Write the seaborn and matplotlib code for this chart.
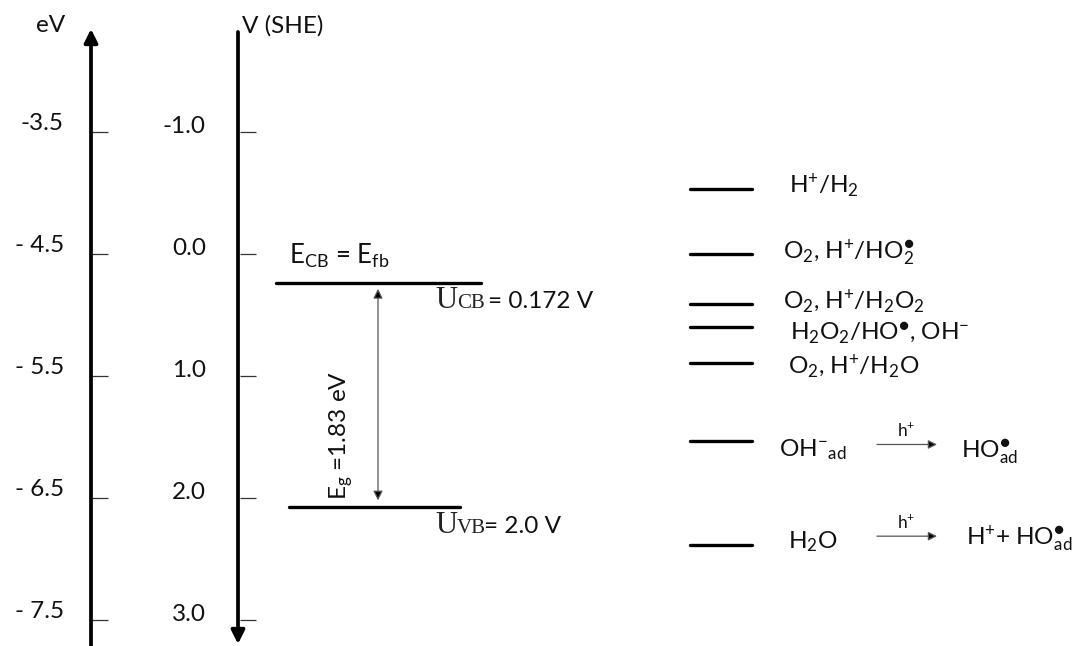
import matplotlib
matplotlib.use("Agg")
import matplotlib.pyplot as plt
import numpy as np
import pandas as pd
import seaborn as sns

# ---------------- data ----------------
v_ticks = [-1.0, 0.0, 1.0, 2.0, 3.0]
v_tick_labels = ["-1.0", "0.0", "1.0", "2.0", "3.0"]
ev_ticks = [-3.5, -4.5, -5.5, -6.5, -7.5]
ev_tick_labels = ["-3.5", "- 4.5", "- 5.5", "- 6.5", "- 7.5"]
ev_zero = -4.5          # eV = ev_zero - V(SHE)

band_names = ["CB", "VB"]
band_levels = [0.24, 2.08]       # drawn level, V vs SHE
u_cb = "0.172 V"
u_vb = "2.0 V"
eg_label = "1.83 eV"

DOT = "●"
redox_labels = [
    r"H$^{+}$/H$_{2}$",
    r"O$_{2}$, H$^{+}$/HO$_{2}^{" + DOT + "}$",
    r"O$_{2}$, H$^{+}$/H$_{2}$O$_{2}$",
    r"H$_{2}$O$_{2}$/HO$^{" + DOT + "}$, OH$^{-}$",
    r"O$_{2}$, H$^{+}$/H$_{2}$O",
    r"OH$^{-}$$_{ad}$",
    r"H$_{2}$O",
]
redox_levels = [-0.53, 0.0, 0.41, 0.60, 0.90, 1.54, 2.39]
reaction_products = {5: r"HO$^{" + DOT + "}_{ad}$",
                     6: r"H$^{+}$+ HO$^{" + DOT + "}_{ad}$"}

# ---------------- layout (positions / styles) ----------------
PX_PER_V = 122.0
ZERO_PX = 253.6
def px2v(p):
    return (p - ZERO_PX) / PX_PER_V

label_x = [789, 783, 783, 790, 788, 779, 788]
label_base_px = [4, 5, 5, 13, 10, 15, 3]
band_x = {"CB": (276, 481), "VB": (289, 460)}

sns.set_theme(style="white")
plt.rcParams["font.family"] = ["Lato", "DejaVu Sans"]
plt.rcParams["mathtext.default"] = "regular"

fig = plt.figure(figsize=(10.81, 6.46), dpi=100)
ax = fig.add_axes([0, 0, 1, 1])

# level segments via seaborn
rows = []
for name, lvl in zip(band_names, band_levels):
    x0, x1 = band_x[name]
    rows += [dict(seg=name, x=x0, y=lvl), dict(seg=name, x=x1, y=lvl)]
for i, lvl in enumerate(redox_levels):
    rows += [dict(seg=f"r{i}", x=690, y=lvl), dict(seg=f"r{i}", x=752, y=lvl)]
df = pd.DataFrame(rows)
sns.lineplot(data=df, x="x", y="y", units="seg", estimator=None, sort=False,
             color="black", lw=2.4, ax=ax, legend=False)

ax.set_xlim(0, 1081)
ax.set_ylim(px2v(646), px2v(0))
ax.axis("off")

FS = 17.5
TC = "#111111"
# eV axis (arrow up)
ax.annotate("", xy=(91, px2v(29)), xytext=(91, px2v(660)),
            arrowprops=dict(arrowstyle="-|>", lw=2.7, color="black",
                            mutation_scale=20, shrinkA=0, shrinkB=0))
ev_pos = [ev_zero - e for e in ev_ticks]
ax.hlines(ev_pos, 92, 108, color="#333333", lw=0.9)
for p, lab in zip(ev_pos, ev_tick_labels):
    ax.text(64, p - 8 / PX_PER_V, lab, ha="right", va="center", fontsize=FS, color=TC)
ax.text(51, px2v(25), "eV", ha="center", va="center", fontsize=FS, color=TC)

# V(SHE) axis (arrow down)
ax.annotate("", xy=(238, px2v(644)), xytext=(238, px2v(32)),
            arrowprops=dict(arrowstyle="-|>", lw=2.7, color="black",
                            mutation_scale=20, shrinkA=0, shrinkB=0))
ax.hlines(v_ticks, 240, 256, color="#333333", lw=0.9)
for p, lab in zip(v_ticks, v_tick_labels):
    ax.text(206, p - 5 / PX_PER_V, lab, ha="right", va="center", fontsize=FS, color=TC)
ax.text(242, px2v(26), "V (SHE)", ha="left", va="center", fontsize=FS, color=TC)

# band annotations
cb, vb = band_levels
ax.text(289, px2v(256), r"E$_{CB}$ = E$_{fb}$", ha="left", va="center",
        fontsize=18.5, color=TC)
for lvl, name, val in [(cb, "CB", u_cb), (vb, "VB", u_vb)]:
    base = lvl + (25 if name == "CB" else 26) / PX_PER_V
    ax.text(435, base, "U", ha="left", va="baseline", fontsize=22,
            family="Liberation Serif", color="#222222")
    ax.text(457, base, name, ha="left", va="baseline", fontsize=15,
            family="Liberation Serif", color="#222222")
    ax.text(488 if name == "CB" else 484, base, "= " + val, ha="left",
            va="baseline", fontsize=FS, color=TC)

# band gap arrow
ax.annotate("", xy=(378, cb + 6 / PX_PER_V), xytext=(378, vb - 7 / PX_PER_V),
            arrowprops=dict(arrowstyle="<|-|>", lw=0.9, color="#555555",
                            fc="black", mutation_scale=14, shrinkA=0, shrinkB=0))
ax.text(341, px2v(435), r"E$_{g}$ =" + eg_label, rotation=90, ha="center",
        va="center", fontsize=FS, color=TC)

# redox labels
for i, (lab, lvl) in enumerate(zip(redox_labels, redox_levels)):
    ax.text(label_x[i], lvl + label_base_px[i] / PX_PER_V, lab, ha="left",
            va="baseline", fontsize=FS, color=TC)

# reaction arrows and products
for i, prod in reaction_products.items():
    lvl = redox_levels[i]
    ay = lvl - 9 / PX_PER_V if i == 6 else lvl + 3 / PX_PER_V
    ax.annotate("", xy=(937, ay), xytext=(877, ay),
                arrowprops=dict(arrowstyle="-|>", lw=0.9, color="#555555",
                                fc="black", mutation_scale=13, shrinkA=0, shrinkB=0))
    ax.text(906, ay - 8 / PX_PER_V, r"h$^{+}$", ha="center", va="baseline",
            fontsize=12.5, color=TC)
    px_x = 961 if i == 5 else 966
    ax.text(px_x, lvl + (16 if i == 5 else 0) / PX_PER_V, prod, ha="left",
            va="baseline", fontsize=FS, color=TC)

fig.savefig("out.png", dpi=100, facecolor="white")
